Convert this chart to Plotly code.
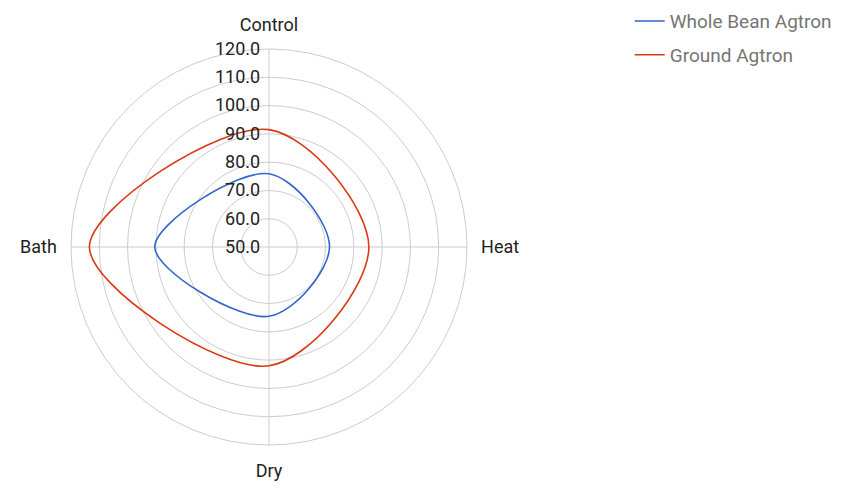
import plotly.graph_objects as go

categories = ["Control", "Heat", "Dry", "Bath"]
whole_bean = [75.9, 71.4, 74.5, 90.4]
ground = [91.5, 85.3, 92.0, 113.5]
series_names = ["Whole Bean Agtron", "Ground Agtron"]
colors = ["#3366cc", "#dc3912"]
radial_ticks = [50, 60, 70, 80, 90, 100, 110, 120]

fig = go.Figure()
for name, vals, col in zip(series_names, [whole_bean, ground], colors):
    fig.add_trace(go.Scatterpolar(
        r=vals + vals[:1],
        theta=categories + categories[:1],
        mode="lines",
        name=name,
        legendgroup=name,
        line=dict(color=col, width=1.6, shape="spline", smoothing=1.0),
        hoverinfo="skip",
    ))

W, H = 854, 487
cx, cy, R = 261, 239, 198
fig.update_layout(
    width=W, height=H,
    margin=dict(l=0, r=0, t=0, b=0, autoexpand=False),
    paper_bgcolor="white",
    plot_bgcolor="white",
    font=dict(family="Roboto, Arial, sans-serif", size=18, color="#222222"),
    polar=dict(
        domain=dict(x=[(cx - R) / W, (cx + R) / W],
                    y=[(H - cy - R) / H, (H - cy + R) / H]),
        bgcolor="white",
        angularaxis=dict(
            direction="clockwise", rotation=90,
            categoryorder="array", categoryarray=categories,
            showline=True, linecolor="#cccccc", linewidth=1,
            gridcolor="#cccccc", gridwidth=1,
            ticks="outside", ticklen=10, tickcolor="rgba(0,0,0,0)",
            tickfont=dict(size=18, color="#222222"),
        ),
        radialaxis=dict(
            range=[50, 120], tickvals=radial_ticks,
            tickformat=".1f", angle=90, tickangle=90,
            side="counterclockwise",
            showline=False, gridcolor="#cccccc", gridwidth=1,
            ticks="outside", ticklen=2, tickcolor="rgba(0,0,0,0)",
            tickfont=dict(size=18, color="#222222"),
        ),
    ),
    legend=dict(
        x=0.728, y=1.012, xanchor="left", yanchor="top",
        font=dict(size=19, color="#757575"),
        tracegroupgap=6, itemwidth=30,
        bgcolor="rgba(0,0,0,0)",
    ),
)

fig.write_html("out.html")
